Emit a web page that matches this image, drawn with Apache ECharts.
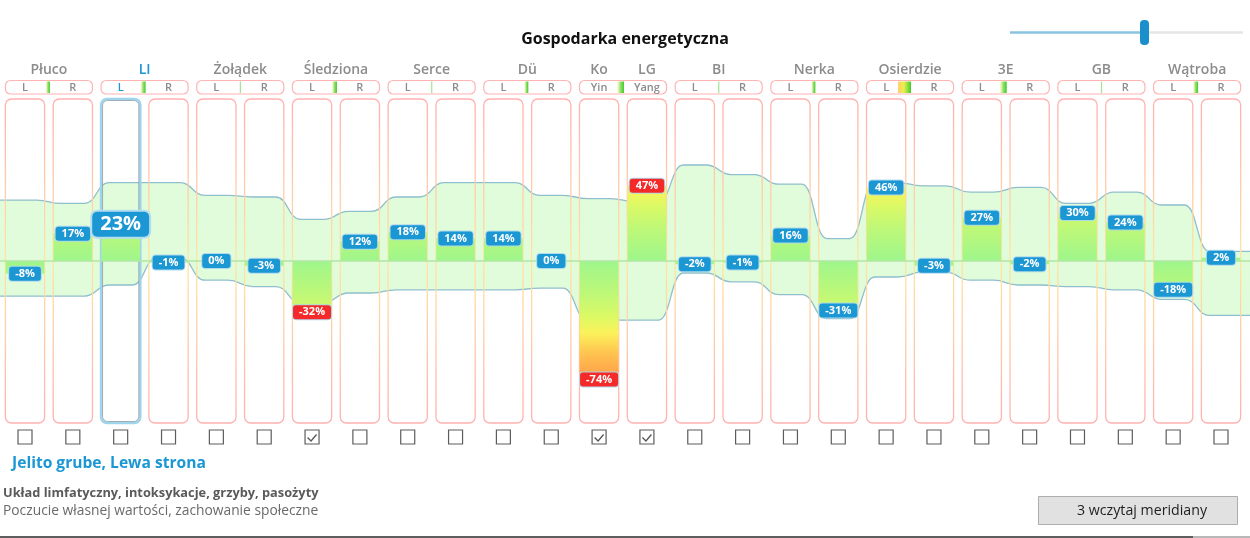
<!DOCTYPE html>
<html>
<head>
<meta charset="utf-8">
<script src="https://cdn.jsdelivr.net/npm/echarts@6/dist/echarts.min.js"></script>
<style>
html,body{margin:0;padding:0;background:#fff;}
#c{width:1250px;height:538px;}
</style>
</head>
<body>
<div id="c"></div>
<script>
// ---------------- data ----------------
const chartTitle = 'Gospodarka energetyczna';
const pairNames = ['Płuco','LI','Żołądek','Śledziona','Serce','Dü','Ko/LG','BI','Nerka','Osierdzie','3E','GB','Wątroba'];
const sideLabels = ['L','R','L','R','L','R','L','R','L','R','L','R','Yin','Yang','L','R','L','R','L','R','L','R','L','R','L','R'];
const values = [-8,17,23,-1,0,-3,-32,12,18,14,14,0,-74,47,-2,-1,16,-31,46,-3,27,-2,30,24,-18,2];
const bandUpper = [38,36,49,49,41,40,26,31,40,49,49,41,39,37,60,54,48,14,49,47,43,46,36,43,35,6];
const bandLower = [-22,-22,-15,2,-12,-16,-26,-20,-18,-18,-18,-17,-37,-37,-7.5,-13,-21,-36,-10,-7,-12,-15,-16,-18,-24,-34];
const checked = [0,0,0,0,0,0,1,0,0,0,0,0,1,1,0,0,0,0,0,0,0,0,0,0,0,0];
const balance = [3,4,0,4,0,3,6,0,3,12,6,0,4];
const selectedColumn = 2;
const selectedTitle = 'Jelito grube, Lewa strona';
const descLine1 = 'Układ limfatyczny, intoksykacje, grzyby, pasożyty';
const descLine2 = 'Poczucie własnej wartości, zachowanie społeczne';
const buttonText = '3 wczytaj meridiany';

// ---------------- layout constants ----------------
const X_MIN = -0.5226, X_MAX = 25.606;
const HALF = 0.41, FLAT = 0.24, CURVE_K = 0.5;
const FONT = '"Open Sans", "Noto Sans", sans-serif';
const BLUE = '#1b97d3', RED = '#f42a2a';

const chart = echarts.init(document.getElementById('c'), null, {renderer:'canvas'});

// band vertices in pixel space, obtained through the chart's scales
function bandPixels(arr, api){
  const pts = [api.coord([X_MIN, arr[0]])];
  arr.forEach((v, i) => { pts.push(api.coord([i - FLAT, v]), api.coord([i + FLAT, v])); });
  pts.push(api.coord([X_MAX, arr[arr.length - 1]]));
  return pts;
}
function curveCmds(pts){
  let d = '';
  for (let k = 1; k < pts.length; k++){
    const p = pts[k-1], q = pts[k];
    const dx = (q[0] - p[0]) * CURVE_K;
    d += ' C' + (p[0]+dx).toFixed(2) + ' ' + p[1].toFixed(2) + ' ' + (q[0]-dx).toFixed(2) + ' ' + q[1].toFixed(2) + ' ' + q[0].toFixed(2) + ' ' + q[1].toFixed(2);
  }
  return d;
}
function bandItem(params, api){
  const up = bandPixels(bandUpper, api);
  const lo = bandPixels(bandLower, api);
  const loRev = lo.slice().reverse();
  const upD = 'M' + up[0][0].toFixed(2) + ' ' + up[0][1].toFixed(2) + curveCmds(up);
  const loD = 'M' + lo[0][0].toFixed(2) + ' ' + lo[0][1].toFixed(2) + curveCmds(lo);
  const fillD = upD + ' L' + loRev[0][0].toFixed(2) + ' ' + loRev[0][1].toFixed(2) + curveCmds(loRev) + ' Z';
  return {type:'group', children:[
    {type:'path', shape:{pathData:fillD}, style:{fill:'rgb(225,252,219)', stroke:null}},
    {type:'path', shape:{pathData:upD}, style:{fill:null, stroke:'#8fbfcc', lineWidth:1.3}},
    {type:'path', shape:{pathData:loD}, style:{fill:null, stroke:'#8fbfcc', lineWidth:1.3}}
  ]};
}

const magStops = [[0,[158,246,140]],[20,[189,248,120]],[35,[220,249,100]],[45,[251,242,90]],[58,[255,194,80]],[76,[255,150,72]]];
function magColor(m){
  for (let k = 1; k < magStops.length; k++){
    if (m <= magStops[k][0]){
      const a = magStops[k-1], b = magStops[k];
      const t = (m - a[0])/(b[0]-a[0]);
      const c = a[1].map((v,j)=>Math.round(v + (b[1][j]-v)*t));
      return 'rgb('+c.join(',')+')';
    }
  }
  const l = magStops[magStops.length-1][1];
  return 'rgb('+l.join(',')+')';
}

function boxItem(params, api){
  const i = params.dataIndex;
  const a = api.coord([i - HALF, 100]), b = api.coord([i + HALF, -100]);
  const x = a[0], w = b[0]-a[0], y = a[1]-2, h = b[1]-a[1]+4;
  if (i === selectedColumn){
    return {type:'group', children:[
      {type:'rect', shape:{x:x, y:y, width:w, height:h, r:6}, style:{fill:null, stroke:'#9ed4ec', lineWidth:2.5}},
      {type:'rect', shape:{x:x+1.5, y:y+1.5, width:w-3, height:h-3, r:5}, style:{fill:null, stroke:'#8f9a9e', lineWidth:0.8}}
    ]};
  }
  return {type:'rect', shape:{x:x, y:y, width:w, height:h, r:6},
    style:{fill:null, lineWidth:1.3,
      stroke:new echarts.graphic.LinearGradient(0,0,0,1,[
        {offset:0,color:'#ffb0b0'},{offset:0.3,color:'#ffcfa8'},{offset:0.5,color:'#ffe69e'},{offset:0.7,color:'#ffcfa8'},{offset:1,color:'#ffb0b0'}])}};
}

function barItem(params, api){
  const i = params.dataIndex, v = values[i];
  const a = api.coord([i - 0.405, 0]), b = api.coord([i + 0.405, v]);
  const m = Math.abs(v);
  const stops = [{offset:0, color:magColor(0)}];
  magStops.forEach(s => { if (s[0] > 0 && s[0] < m) stops.push({offset:s[0]/m, color:magColor(s[0])}); });
  stops.push({offset:1, color:magColor(m)});
  const fill = new echarts.graphic.LinearGradient(0, a[1], 0, b[1], stops, true);
  return {type:'rect', shape:{x:a[0], y:Math.min(a[1],b[1]), width:b[0]-a[0], height:Math.abs(b[1]-a[1])}, style:{fill:fill}};
}

function zeroItem(params, api){
  const a = api.coord([X_MIN, 0]), b = api.coord([X_MAX, 0]);
  return {type:'line', shape:{x1:a[0], y1:a[1], x2:b[0], y2:b[1]}, style:{stroke:'#b2e6a4', lineWidth:1.5}};
}

function labelItem(params, api){
  const i = params.dataIndex, v = values[i];
  const p = api.coord([i, v]);
  const sel = i === selectedColumn;
  return {type:'text', style:{
    text: v + '%', x:p[0], y:p[1], align:'center', verticalAlign:'middle',
    fill:'#fff', font: sel ? 'bold 20px ' + FONT : 'bold 11px ' + FONT,
    lineHeight: sel ? 21 : 12,
    backgroundColor: checked[i] ? RED : BLUE,
    padding: sel ? [2,8] : [1,6],
    borderRadius: sel ? 5 : 3,
    borderColor: sel ? '#b3def2' : 'rgba(170,215,240,0.9)', borderWidth: sel ? 2 : 1
  }};
}

function headerItem(params, api){
  const p = params.dataIndex, l = 2*p, r = 2*p+1;
  const a = api.coord([l - HALF, 0])[0], b = api.coord([r + HALF, 0])[0];
  const mid = api.coord([l + 0.5, 0])[0];
  const cl = api.coord([l, 0])[0], cr = api.coord([r, 0])[0];
  const kids = [];
  kids.push({type:'rect', shape:{x:a, y:80.5, width:b-a, height:13.5, r:5}, style:{fill:'#fff', stroke:'#ffb4b4', lineWidth:1.2}});
  const w = balance[p];
  if (w <= 0){
    kids.push({type:'rect', shape:{x:mid-0.5, y:81.5, width:1.2, height:11.5}, style:{fill:'#9fe592'}});
  } else {
    const stops = w > 8
      ? [{offset:0,color:'rgba(255,200,90,0.9)'},{offset:0.45,color:'#eaf04e'},{offset:1,color:'#3fcc2c'}]
      : [{offset:0,color:'rgba(240,245,140,0.25)'},{offset:0.45,color:'#9be272'},{offset:1,color:'#3ecb2b'}];
    kids.push({type:'rect', shape:{x:mid-w, y:81.5, width:w+1, height:11.5},
      style:{fill:new echarts.graphic.LinearGradient(mid-w,0,mid+1,0,stops,true)}});
  }
  const sideFont = '600 11px ' + FONT;
  kids.push({type:'text', style:{text:sideLabels[l], x:cl, y:87.5, align:'center', verticalAlign:'middle', font:sideFont, fill: l === selectedColumn ? BLUE : '#8c8c8c'}});
  kids.push({type:'text', style:{text:sideLabels[r], x:cr, y:87.5, align:'center', verticalAlign:'middle', font:sideFont, fill: r === selectedColumn ? BLUE : '#8c8c8c'}});
  const nm = pairNames[p];
  const nameFont = '600 14px ' + FONT;
  const isSel = (selectedColumn === l || selectedColumn === r);
  const ny = 70.5;
  if (nm.indexOf('/') >= 0){
    const parts = nm.split('/');
    kids.push({type:'text', style:{text:parts[0], x:cl, y:ny, align:'center', verticalAlign:'middle', font:nameFont, fill:'#8c8c8c'}});
    kids.push({type:'text', style:{text:parts[1], x:cr, y:ny, align:'center', verticalAlign:'middle', font:nameFont, fill:'#8c8c8c'}});
  } else {
    kids.push({type:'text', style:{text:nm, x:mid, y:ny, align:'center', verticalAlign:'middle', font:nameFont, fill: isSel ? BLUE : '#8c8c8c'}});
  }
  return {type:'group', children:kids};
}

function checkItem(params, api){
  const i = params.dataIndex;
  const cx = api.coord([i, 0])[0];
  const kids = [{type:'rect', shape:{x:cx-7, y:430, width:14, height:14}, style:{fill:'#fff', stroke:'#5c5c5c', lineWidth:1.2}}];
  if (checked[i]){
    kids.push({type:'polyline', shape:{points:[[cx-4.5,437.5],[cx-1,441],[cx+4.5,434.5]]}, style:{stroke:'#555', lineWidth:1.3, fill:null}});
  }
  return {type:'group', children:kids};
}

const colData = values.map((v, i) => [i, v]);
const pairData = pairNames.map((n, p) => [2*p, 0]);

const option = {
  animation: false,
  backgroundColor: '#fff',
  title: {text: chartTitle, left: 'center', top: 26, textStyle: {fontFamily: FONT, fontSize: 16, fontWeight: 'bold', color: '#111'}},
  grid: {left: 0, right: 0, top: 101, height: 320},
  xAxis: {type: 'value', min: X_MIN, max: X_MAX, show: false},
  yAxis: {type: 'value', min: -100, max: 100, show: false},
  series: [
    {type:'custom', name:'band', z:1, data: [[0,0]], renderItem: bandItem, silent:true},
    {type:'custom', name:'boxes', z:2, data: colData, renderItem: boxItem, silent:true},
    {type:'custom', name:'bars', z:3, data: colData, renderItem: barItem, silent:true},
    {type:'custom', name:'zero', z:4, data: [[0,0]], renderItem: zeroItem, silent:true},
    {type:'custom', name:'headers', z:5, data: pairData, renderItem: headerItem, silent:true},
    {type:'custom', name:'checks', z:5, data: colData, renderItem: checkItem, silent:true},
    {type:'custom', name:'labels', z:6, data: colData, renderItem: labelItem, silent:true}
  ],
  graphic: [
    {type:'line', shape:{x1:1010, y1:32.5, x2:1143, y2:32.5}, style:{stroke:'#8ac3e2', lineWidth:2.5}},
    {type:'line', shape:{x1:1149, y1:32.5, x2:1243, y2:32.5}, style:{stroke:'#e6e6e6', lineWidth:2.5}},
    {type:'rect', shape:{x:1140, y:20, width:9, height:25, r:4}, style:{fill:'#1a8fcc'}},
    {type:'text', style:{text:selectedTitle, x:12, y:464, verticalAlign:'middle', font:'bold 15.6px ' + FONT, fill:BLUE}},
    {type:'text', style:{text:descLine1, x:3, y:493, verticalAlign:'middle', font:'bold 12.8px ' + FONT, fill:'#5a5a5a'}},
    {type:'text', style:{text:descLine2, x:3, y:511, verticalAlign:'middle', font:'13.8px ' + FONT, fill:'#6a6a6a'}},
    {type:'rect', shape:{x:1038.5, y:496.5, width:199, height:28}, style:{fill:'#e1e1e1', stroke:'#adadad', lineWidth:1}},
    {type:'text', style:{text:buttonText, x:1142, y:510.5, align:'center', verticalAlign:'middle', font:'14.2px ' + FONT, fill:'#1e1e1e'}},
    {type:'line', shape:{x1:0, y1:537, x2:1193, y2:537}, style:{stroke:'#5e5e5e', lineWidth:2}},
    {type:'line', shape:{x1:1193, y1:537, x2:1250, y2:537}, style:{stroke:'#b8b8b8', lineWidth:2}}
  ]
};
chart.setOption(option);
</script>
</body>
</html>
